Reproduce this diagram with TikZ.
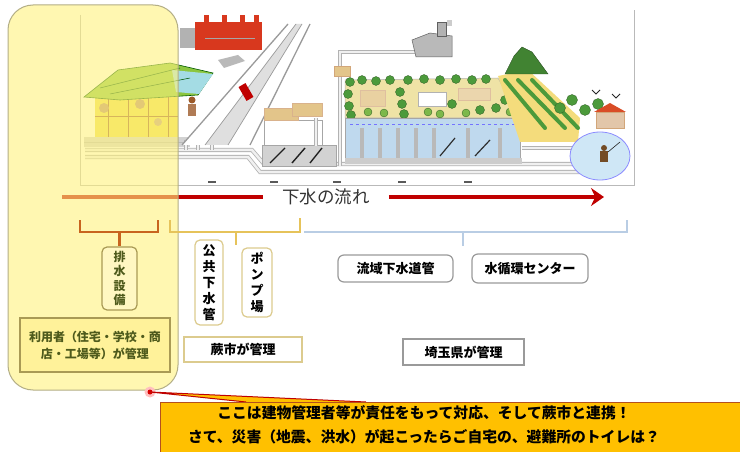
\documentclass[tikz,border=0pt]{standalone}
\usepackage{fontspec}
\newfontfamily\jp{Noto Sans CJK JP}
\usetikzlibrary{arrows.meta}

% palette
\definecolor{flowred}{HTML}{C00000}
\definecolor{panelfill}{HTML}{FFF37E}
\definecolor{paneledge}{HTML}{B3AE86}
\definecolor{orangebr}{HTML}{C8641E}
\definecolor{goldbr}{HTML}{E6C35A}
\definecolor{bluebr}{HTML}{B9CDE4}
\definecolor{olivetext}{HTML}{4E5A1C}
\definecolor{oliveedge}{HTML}{A99A55}
\definecolor{userfill}{HTML}{FFF29A}
\definecolor{tanedge}{HTML}{DCCB8E}
\definecolor{boxgray}{HTML}{9A9A9A}
\definecolor{notefill}{HTML}{FFC000}
\definecolor{noteedge}{HTML}{B4501E}
\definecolor{roofgreen}{HTML}{8CC63F}
\definecolor{roofcyan}{HTML}{A4DCE4}
\definecolor{wallyellow}{HTML}{EFDC4A}
\definecolor{housebrown}{HTML}{9C5A2A}
\definecolor{factoryred}{HTML}{D8381E}
\definecolor{roadgray}{HTML}{9A9A9A}
\definecolor{tan}{HTML}{E3C58A}
\definecolor{tankblue}{HTML}{BFD9EE}
\definecolor{parkbeige}{HTML}{EFE3A6}
\definecolor{treegreen}{HTML}{4C9A3B}
\definecolor{treelight}{HTML}{7DB84A}
\definecolor{slope}{HTML}{F4DC7C}
\definecolor{pond}{HTML}{CFE7F6}

\tikzset{
  pipe/.style={draw=gray!60, double=gray!12, double distance=2.5pt, line width=0.8pt},
  thinline/.style={draw=gray!55, line width=0.6pt},
  tree/.style={fill=treegreen, draw=treegreen!60!black, line width=0.3pt},
  treeb/.style={fill=treelight, draw=treegreen!60!black, line width=0.3pt},
  panel/.style={draw=paneledge, line width=1pt, fill=panelfill, fill opacity=0.6,
    rounded corners=25pt, inner sep=0pt},
  vlabel/.style={draw=tanedge, line width=1.2pt, fill=white, rounded corners=5pt,
    inner sep=0pt, align=center, font=\jp\bfseries\fontsize{13}{16}\selectfont},
  ownerlabel/.style={draw=oliveedge, line width=1.2pt, fill=userfill!60, rounded corners=5pt,
    inner sep=0pt, align=center, text=olivetext, font=\jp\bfseries\fontsize{12}{14.5}\selectfont},
  userlabel/.style={draw=oliveedge, line width=1.3pt, fill=userfill, inner sep=0pt,
    align=center, text=olivetext, font=\jp\bfseries\fontsize{12}{17}\selectfont},
  citylabel/.style={draw=tanedge, line width=1.3pt, fill=white, inner sep=0pt,
    font=\jp\bfseries\fontsize{13}{15}\selectfont},
  preflabel/.style={draw=boxgray, line width=1.2pt, fill=white, rounded corners=6pt,
    inner sep=0pt, font=\jp\bfseries\fontsize{13}{15}\selectfont},
  prefmgr/.style={draw=boxgray, line width=1.2pt, fill=white, inner sep=0pt,
    font=\jp\bfseries\fontsize{13}{15}\selectfont},
  obracket/.style={draw=orangebr, line width=2.6pt},
  gbracket/.style={draw=goldbr, line width=2pt},
  bbracket/.style={draw=bluebr, line width=2pt},
  flowline/.style={draw=flowred, line width=4pt},
  notebox/.style={draw=noteedge, line width=1.3pt, fill=notefill, inner sep=0pt},
}

\begin{document}
\begin{tikzpicture}[x=1pt, y=-1pt]
\useasboundingbox[fill=white] (0,0) rectangle (740,452);

% ---------- sewer system illustration ----------
% frame
\draw[thinline] (80,15) -- (80,185) -- (634,185) -- (634,10);
\foreach \x in {212,274,337,402,468}
  \draw[gray!70!black, line width=1.2pt] (\x-4,182) -- (\x+4,182);

% main underground pipes
\draw[pipe] (85,150) -- (252,150) -- (264,164) -- (618,164);
\draw[pipe] (85,157) -- (248,157) -- (260,172) -- (618,172);

% house
\fill[wallyellow] (95,95) rectangle (178,137);
\foreach \x in {108,128,148,168}
  \draw[housebrown, line width=1pt] (\x,97) -- (\x,137);
\draw[housebrown, line width=0.8pt] (95,116) -- (178,116);
\fill[housebrown!70] (104,108) circle (5);
\fill[housebrown!70] (140,104) circle (5);
\fill[housebrown!60] (158,122) circle (4);
\filldraw[fill=roofgreen, draw=green!35!black, line width=0.6pt]
  (84,97) -- (118,70) -- (170,63) -- (213,73) -- (198,95) -- (120,100) -- cycle;
\fill[roofcyan] (172,70) -- (213,74) -- (199,94) -- (176,92) -- cycle;
\draw[green!35!black, line width=0.5pt] (100,88) -- (180,68) (110,94) -- (190,78);
\fill[gray!35] (84,137) rectangle (190,147);
\draw[thinline] (84,142) -- (190,142);
\foreach \x in {186,198,212}
  \draw[pipe] (\x,140) -- (\x,150);
% person beside the house
\fill[housebrown] (192,100) circle (3.5);
\fill[housebrown!80] (188,104) rectangle (196,116);

% factory and small car
\fill[gray!60] (180,28) rectangle (196,48);
\fill[factoryred] (195,22) rectangle (262,50);
\foreach \x in {204,222,240,254}
  \fill[factoryred] (\x,15) rectangle (\x+5,22);
\draw[gray!70, line width=0.6pt] (205,38) -- (255,38);
\fill[gray!55] (218,60) -- (238,55) -- (245,61) -- (224,68) -- cycle;

% road
\fill[white] (288,24) -- (310,24) -- (250,145) -- (182,145) -- cycle;
\fill[gray!25] (296,24) -- (302,24) -- (228,145) -- (205,145) -- cycle;
\draw[roadgray, line width=1.3pt] (288,24) -- (182,145);
\draw[roadgray, line width=1.3pt] (310,24) -- (250,145);
\draw[roadgray, line width=0.7pt] (296,24) -- (205,145);
\draw[roadgray, line width=0.7pt] (302,24) -- (228,145);
\fill[red!75!black, rotate around={-60:(246,92)}] (238,88) rectangle (254,96);

% trunk pipe to the incineration plant
\draw[pipe] (340,166) -- (340,52) -- (418,52);
\filldraw[fill=gray!55, draw=gray!75!black, line width=0.5pt]
  (412,40) -- (430,33) -- (452,36) -- (452,57) -- (416,57) -- cycle;
\filldraw[fill=gray!60, draw=gray!75!black, line width=0.5pt] (437,22) rectangle (446,36);
\fill[gray!40] (447,20) rectangle (452,26);
\filldraw[fill=tan, draw=brown!70, line width=0.5pt] (334,66) rectangle (350,76);

% pump station
\filldraw[fill=gray!35, draw=gray!70] (262,145) rectangle (336,166);
\foreach \a/\b in {270/285,292/305,310/322}
  \draw[gray!25!black, line width=1.4pt] (\a,163) -- (\b,148);
\filldraw[fill=white, draw=gray!70] (264,120) rectangle (322,145);
\filldraw[fill=tan, draw=brown!60, line width=0.6pt] (264,108) rectangle (298,120);
\filldraw[fill=tan, draw=brown!60, line width=0.6pt] (292,103) rectangle (322,116);
\draw[pipe] (316,118) -- (316,146);

% treatment plant: park on the roof
\filldraw[fill=parkbeige, draw=gray!60, line width=0.5pt]
  (345,80) -- (498,78) -- (520,118) -- (345,118) -- cycle;
\filldraw[fill=tan!80, draw=brown!50] (360,90) rectangle (385,106);
\filldraw[fill=white, draw=gray!60] (418,92) rectangle (446,106);
\filldraw[fill=tan!70, draw=brown!50] (458,88) rectangle (490,100);
\foreach \p in {(350,82),(362,80),(376,81),(390,80),(408,80),(424,79),(440,80),(456,79),(472,80),(486,79),
                (348,94),(349,106),(351,115),(400,92),(402,104),(404,114),(452,104),(480,110),(496,108),(505,100)}
  \filldraw[tree] \p circle (4.5);
\foreach \p in {(368,112),(384,113),(428,112),(440,114),(466,113),(510,112)}
  \filldraw[treeb] \p circle (4);
% treatment tanks
\filldraw[fill=tankblue, draw=gray!70, line width=0.6pt] (345,118) rectangle (520,160);
\draw[blue!55, dashed, line width=0.8pt] (350,124) -- (515,124);
\foreach \x in {360,378,396,414,432,466,498}
  \fill[gray!55] (\x,128) rectangle (\x+4,158);
\draw[gray!35!black, line width=1.2pt] (440,156) -- (455,138) (475,156) -- (490,140);
\fill[gray!40] (345,158) rectangle (522,164);

% hill with trees
\fill[slope] (498,76) -- (528,70) -- (580,118) -- (578,142) -- (520,142) -- cycle;
\foreach \a/\b in {505/545,518/565,532/578}
  \draw[treegreen, line width=4pt, line cap=round] (\a,80) -- (\b,128);
\filldraw[fill=treegreen!85!black, draw=treegreen!50!black, line width=0.4pt]
  (505,74) -- (514,56) -- (522,47) -- (532,52) -- (548,74) -- cycle;
\draw[pipe] (522,148) -- (576,148);

% river outlet
\foreach \p in {(560,108),(572,100),(585,110),(598,104),(612,112)}
  \filldraw[tree] \p circle (5.5);
\filldraw[fill=brown!45, draw=brown!70, line width=0.4pt] (596,112) rectangle (624,128);
\fill[red!40!brown] (594,112) -- (610,103) -- (626,112) -- cycle;
\filldraw[fill=pond, draw=blue!45, line width=0.8pt] (600,156) ellipse (30 and 24);
\fill[brown!60!black] (604,148) circle (3);
\fill[brown!60!black] (600,151) rectangle (608,162);
\draw[gray!30!black, line width=0.6pt] (608,152) -- (620,142);
\draw[gray!30!black, line width=0.8pt] (592,90) -- (596,94) -- (600,90) (612,94) -- (616,98) -- (620,94);

% ---------- flow of sewage ----------
\coordinate (flowstart) at (62,197);
\coordinate (flowend) at (604,197);
\node[font=\jp\fontsize{17.5}{18}\selectfont, text=black!80, inner xsep=19pt, inner ysep=2pt]
  (flow) at (326,197) {下水の流れ};
\draw[flowline] (flowstart) -- (flow);
\draw[flowline, -{Stealth[length=13pt, width=18pt]}] (flow) -- (flowend);

% ---------- private zone panel ----------
\node[panel, minimum width=170pt, minimum height=385pt] (zone) at (93,197.5) {};

% ---------- management brackets ----------
\draw[obracket] (80,220) -- (80,232) -- (158,232) -- (158,220);
\draw[gbracket] (170,220) -- (170,232) -- (300,232) -- (300,218);
\draw[bbracket] (304,232) -- (627,232) -- (627,220);

\node[ownerlabel, minimum width=35pt, minimum height=63pt] (haisui) at (119.5,278.5)
  {排\\水\\設\\備};
\node[userlabel, minimum width=150pt, minimum height=54pt] (user) at (95,345)
  {利用者（住宅・学校・商\\店・工場等）が管理};
\draw[obracket] (119.5,232) -- (haisui.north);

\node[vlabel, minimum width=28pt, minimum height=85pt] (kokyo) at (209,282.5)
  {公\\共\\下\\水\\管};
\node[vlabel, minimum width=30pt, minimum height=69pt] (pump) at (257,282.5)
  {ポ\\ン\\プ\\場};
\node[citylabel, minimum width=118pt, minimum height=25pt] (city) at (243,349.5) {蕨市が管理};
\coordinate (goldtick) at (236,245);
\draw[gbracket] (236,232) -- (goldtick);

\node[preflabel, minimum width=115pt, minimum height=27pt] (ryuiki) at (395.5,268.5) {流域下水道管};
\node[preflabel, minimum width=116pt, minimum height=29pt] (center) at (530,268.5) {水循環センター};
\node[prefmgr, minimum width=121pt, minimum height=26pt] (pref) at (463.5,352) {埼玉県が管理};
\coordinate (bluetick) at (463,246);
\draw[bbracket] (463,232) -- (bluetick);

% ---------- call-out ----------
\coordinate (wedgea) at (246,402);
\coordinate (wedgeb) at (366,402);
\fill[red!25] (150,392) circle (5.5);
\node[circle, fill=red!85!black, inner sep=0pt, minimum size=5pt] (tip) at (150,392) {};
\fill[notefill] (tip.center) -- (wedgea) -- (wedgeb) -- cycle;
\draw[red!75!black, line width=1pt] (wedgea) -- (tip.center) -- (wedgeb);
\node[notebox, minimum width=600pt, minimum height=50pt, anchor=north west] (note) at (160,402) {};
\node[align=center, inner sep=0pt, font=\jp\bfseries\fontsize{14.8}{24}\selectfont] (notetext) at (424,425)
  {ここは建物管理者等が責任をもって対応、そして蕨市と連携！\\
   さて、災害（地震、洪水）が起こったらご自宅の、避難所のトイレは？};
\end{tikzpicture}
\end{document}
